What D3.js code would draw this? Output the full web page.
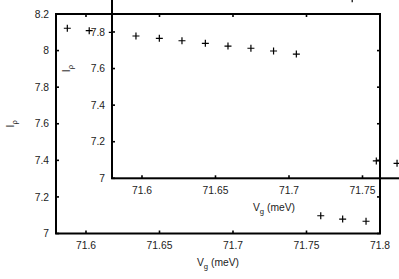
<!DOCTYPE html>
<html><head><meta charset="utf-8">
<script src="https://cdn.jsdelivr.net/npm/d3@7/dist/d3.min.js"></script>
<style>
html,body{margin:0;padding:0;background:#fff;overflow:hidden;}
svg{display:block;}
text{font-family:"Liberation Sans",Arial,Helvetica,sans-serif;fill:#222;}
</style></head>
<body>
<svg id="c" width="399" height="279"></svg>
<script>
// ---- data ----
const xTicks = [71.6, 71.65, 71.7, 71.75, 71.8];
const yTicks = [7, 7.2, 7.4, 7.6, 7.8, 8, 8.2];
const mainVg = [71.5873, 71.6022, 71.6179, 71.7597, 71.7746, 71.7905];
const mainI  = [8.122, 8.109, 8.100, 7.097, 7.079, 7.067];
const insetVg = [71.5959, 71.6118, 71.6272, 71.6431, 71.6585, 71.6741, 71.6895, 71.7050, 71.743, 71.7594, 71.7735];
const insetI  = [7.778, 7.765, 7.752, 7.738, 7.723, 7.711, 7.696, 7.679, 7.982, 7.095, 7.082];
const xDomain = [71.5796, 71.8];
const yDomain = [7, 8.2];

const W = 399, H = 279;
const svg = d3.select("#c");
const FS = 10.3;

function makePanel(box){
  const x = d3.scaleLinear().domain(xDomain).range([box.l, box.r]);
  const y = d3.scaleLinear().domain(yDomain).range([box.b, box.t]);
  return {x, y, box};
}
function drawPoints(g, p, xs, ys){
  const pts = xs.map((v,i)=>({x:v, y:ys[i]}));
  g.selectAll("path.pt").data(pts).enter().append("path")
    .attr("class","pt")
    .attr("d", d => { const cx=p.x(d.x), cy=p.y(d.y);
      return `M${cx-3.5},${cy}H${cx+3.5}M${cx},${cy-3.5}V${cy+3.5}`; })
    .attr("stroke","#000").attr("stroke-width",1.2).attr("fill","none");
}
function drawFrame(g, p){
  const b = p.box;
  g.append("rect").attr("x",b.l).attr("y",b.t).attr("width",b.r-b.l).attr("height",b.b-b.t)
    .attr("fill","none").attr("stroke","#000").attr("stroke-width",2);
  const tl = 3;
  xTicks.forEach(v=>{
    const px = p.x(v);
    g.append("line").attr("x1",px).attr("x2",px).attr("y1",b.b).attr("y2",b.b-tl).attr("stroke","#000").attr("stroke-width",1.6);
    g.append("line").attr("x1",px).attr("x2",px).attr("y1",b.t).attr("y2",b.t+tl).attr("stroke","#000").attr("stroke-width",1.6);
  });
  yTicks.forEach(v=>{
    const py = p.y(v);
    g.append("line").attr("x1",b.l).attr("x2",b.l+tl).attr("y1",py).attr("y2",py).attr("stroke","#000").attr("stroke-width",1.6);
    g.append("line").attr("x1",b.r).attr("x2",b.r-tl).attr("y1",py).attr("y2",py).attr("stroke","#000").attr("stroke-width",1.6);
  });
}
function drawLabels(g, p){
  const b = p.box;
  // only labels that fall inside the visible page
  xTicks.filter(v => p.x(v) < W - 12).forEach(v=>{
    g.append("text").attr("x",p.x(v)).attr("y",b.b+15.5).attr("text-anchor","middle")
      .attr("font-size",FS).text(d3.format("")(v));
  });
  yTicks.filter(v => p.y(v) > 6).forEach(v=>{
    g.append("text").attr("x",b.l-7).attr("y",p.y(v)).attr("dy","0.36em").attr("text-anchor","end")
      .attr("font-size",FS).text(d3.format("")(v));
  });
  const xt = g.append("text").attr("x",(b.l+b.r)/2).attr("y",b.b+32.5).attr("text-anchor","middle").attr("font-size",FS);
  xt.append("tspan").text("V");
  xt.append("tspan").attr("dy",3).attr("font-size",FS*0.75).text("g");
  xt.append("tspan").attr("dy",-3).text(" (meV)");
  const cy = (b.t+b.b)/2;
  const yt = g.append("text").attr("transform",`translate(${b.l-42},${cy}) rotate(-90)`).attr("text-anchor","middle").attr("font-size",FS);
  yt.append("tspan").text("I");
  yt.append("tspan").attr("dy",3).attr("font-size",FS*0.75).text("ρ");
}

const main = makePanel({l:56, r:380, t:14, b:233.5});
const inset = makePanel({l:112, r:436, t:-41.2, b:178.3});

const gMainPts = svg.append("g");
drawPoints(gMainPts, main, mainVg, mainI);

const gInset = svg.append("g");
gInset.append("rect").attr("x",inset.box.l).attr("y",inset.box.t)
  .attr("width",inset.box.r-inset.box.l).attr("height",inset.box.b-inset.box.t).attr("fill","#fff");
drawPoints(gInset, inset, insetVg, insetI);
drawFrame(gInset, inset);
drawLabels(gInset, inset);

const gMain = svg.append("g");
drawFrame(gMain, main);
drawLabels(gMain, main);
</script>
</body></html>
